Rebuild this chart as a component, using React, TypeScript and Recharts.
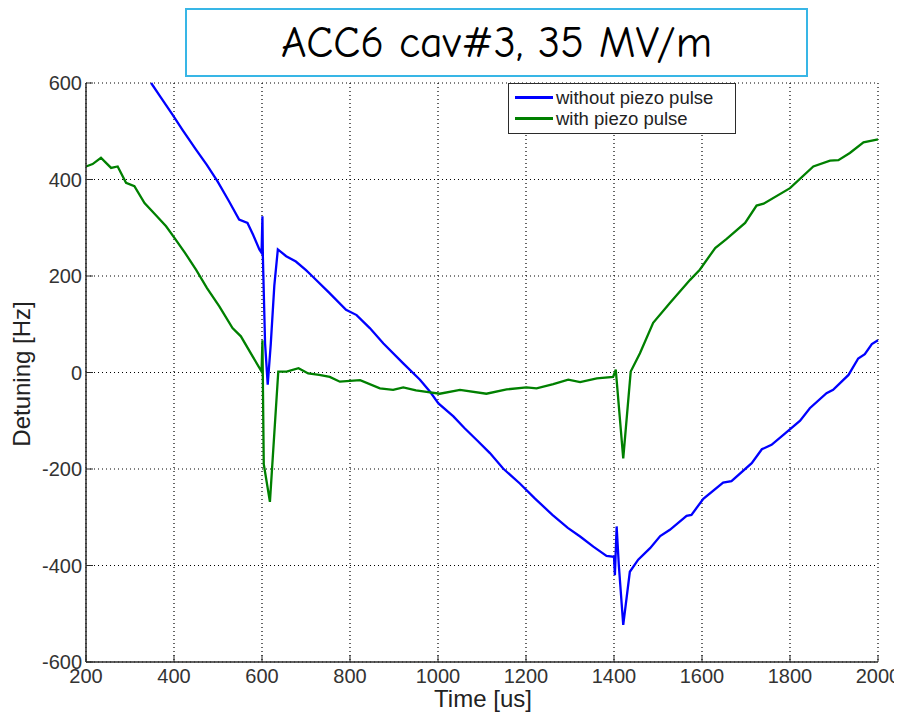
import { CartesianGrid, Legend, Line, LineChart, XAxis, YAxis } from 'recharts'

// time [us] / detuning [Hz] pairs for each run
const withoutPiezo: [number, number][] = [
  [348, 600], [370, 570], [397, 534], [420, 502], [450, 462], [475, 430], [499, 396], [525, 355],
  [548, 317], [567, 310], [580, 285], [594, 255], [599, 248], [601, 324], [602, 240], [607, 60],
  [613, -25], [620, 60], [628, 180], [636, 255], [655, 241], [677, 230], [700, 212], [715, 199],
  [753, 165], [791, 130], [815, 119], [845, 92], [876, 60], [921, 19], [959, -15], [982, -40],
  [1001, -64], [1035, -91], [1060, -115], [1088, -140], [1118, -167], [1148, -199], [1186, -230],
  [1220, -261], [1260, -295], [1295, -322], [1323, -340], [1353, -361], [1383, -380], [1400, -382],
  [1402, -420], [1406, -319], [1411, -400], [1421, -523], [1436, -413], [1455, -388], [1482, -364],
  [1505, -339], [1527, -326], [1565, -297], [1576, -295], [1603, -262], [1648, -228], [1667, -225],
  [1713, -188], [1736, -159], [1758, -150], [1789, -126], [1823, -100], [1845, -74], [1883, -43],
  [1898, -36], [1933, -5], [1955, 29], [1970, 38], [1986, 59], [2000, 67],
]

const withPiezo: [number, number][] = [
  [200, 427], [215, 432], [234, 445], [245, 435], [257, 424], [272, 427], [291, 393], [310, 386],
  [333, 351], [360, 325], [382, 303], [401, 279], [425, 248], [450, 213], [475, 175], [503, 137],
  [533, 92], [552, 75], [579, 33], [599, 2], [601, 67], [604, -190], [618, -268], [637, 2],
  [656, 2], [683, 9], [705, -2], [730, -5], [754, -9], [777, -19], [823, -16], [868, -33],
  [898, -36], [921, -31], [950, -37], [974, -40], [1004, -44], [1050, -36], [1110, -44],
  [1156, -35], [1201, -31], [1224, -33], [1262, -24], [1296, -15], [1323, -20], [1361, -12],
  [1398, -9], [1404, 6], [1421, -178], [1438, 2], [1459, 40], [1489, 103], [1527, 144],
  [1573, 192], [1595, 213], [1630, 258], [1656, 277], [1698, 310], [1724, 346], [1740, 350],
  [1800, 382], [1853, 427], [1891, 439], [1910, 440], [1936, 455], [1967, 477], [2000, 483],
]

const timeTicks = [200, 400, 600, 800, 1000, 1200, 1400, 1600, 1800, 2000]
const hzTicks = [-600, -400, -200, 0, 200, 400, 600]
const seriesNames = ['without piezo pulse', 'with piezo pulse']

const toRows = (pts: [number, number][]) => pts.map(([t, hz]) => ({ t, hz }))

const axisColor = '#2b2b2b'
const sans = '"Liberation Sans", Arial, sans-serif'
const tickFont = { fontFamily: sans, fontSize: 20, fill: '#333' }

// matlab-style ticks: short marks pointing into the plot box
const BottomTick = ({ x, y, payload }: any) => (
  <g>
    <line x1={x} x2={x} y1={y} y2={y - 7} stroke={axisColor} />
    <text x={x} y={y + 21} textAnchor="middle" {...tickFont}>{payload.value}</text>
  </g>
)
const TopTick = ({ x, y }: any) => <line x1={x} x2={x} y1={y} y2={y + 7} stroke={axisColor} />
const LeftTick = ({ x, y, payload }: any) => (
  <g>
    <line x1={x} x2={x + 7} y1={y} y2={y} stroke={axisColor} />
    <text x={x - 4} y={y + 7} textAnchor="end" {...tickFont}>{payload.value}</text>
  </g>
)
const RightTick = ({ x, y }: any) => <line x1={x} x2={x - 7} y1={y} y2={y} stroke={axisColor} />

const LegendBox = ({ payload }: any) => {
  const items = [...(payload || [])].sort(
    (a: any, b: any) => seriesNames.indexOf(a.value) - seriesNames.indexOf(b.value),
  )
  return (
    <div
      style={{
        border: `1px solid ${axisColor}`,
        background: '#fff',
        padding: '3px 6px 4px 6px',
        fontFamily: sans,
        fontSize: 18.5,
        color: '#222',
        lineHeight: '21px',
        whiteSpace: 'nowrap',
      }}
    >
      {items.map((p: any) => (
        <div key={p.value} style={{ display: 'flex', alignItems: 'center' }}>
          <span style={{ display: 'inline-block', width: 38, height: 2.5, background: p.color, marginRight: 3 }} />
          {p.value}
        </div>
      ))}
    </div>
  )
}

export default function App() {
  return (
    <div style={{ position: 'relative', width: 902, height: 714, marginLeft: -8, marginTop: -8, background: '#fff' }}>
      <LineChart width={902} height={714} margin={{ top: 83, right: 24, bottom: 22, left: 26 }}>
        <CartesianGrid stroke="#000" strokeDasharray="1 3" strokeWidth={1.2} />
        <XAxis
          dataKey="t"
          type="number"
          domain={[200, 2000]}
          ticks={timeTicks}
          interval={0}
          height={30}
          tickSize={0}
          tickMargin={0}
          tickLine={false}
          tick={<BottomTick />}
          axisLine={{ stroke: axisColor, strokeWidth: 1.5 }}
        />
        <XAxis
          xAxisId="top"
          orientation="top"
          dataKey="t"
          type="number"
          domain={[200, 2000]}
          ticks={timeTicks}
          interval={0}
          height={0}
          tickSize={0}
          tickMargin={0}
          tickLine={false}
          tick={<TopTick />}
          axisLine={{ stroke: axisColor, strokeWidth: 1.5 }}
        />
        <YAxis
          dataKey="hz"
          type="number"
          domain={[-600, 600]}
          ticks={hzTicks}
          interval={0}
          width={60}
          tickSize={0}
          tickMargin={0}
          tickLine={false}
          tick={<LeftTick />}
          axisLine={{ stroke: axisColor, strokeWidth: 1.5 }}
        />
        <YAxis
          yAxisId="right"
          orientation="right"
          type="number"
          domain={[-600, 600]}
          ticks={hzTicks}
          interval={0}
          width={0}
          tickSize={0}
          tickMargin={0}
          tickLine={false}
          tick={<RightTick />}
          axisLine={{ stroke: axisColor, strokeWidth: 1.5 }}
        />
        <Legend
          layout="vertical"
          align="center"
          verticalAlign="middle"
          content={<LegendBox />}
          wrapperStyle={{ left: 508, top: 83, width: 228 }}
        />
        <Line
          data={toRows(withoutPiezo)}
          dataKey="hz"
          name={seriesNames[0]}
          type="linear"
          stroke="#0000ff"
          strokeWidth={2.3}
          dot={false}
          isAnimationActive={false}
        />
        <Line
          data={toRows(withPiezo)}
          dataKey="hz"
          name={seriesNames[1]}
          type="linear"
          stroke="#008000"
          strokeWidth={2.3}
          dot={false}
          isAnimationActive={false}
        />
      </LineChart>

      <div
        style={{
          position: 'absolute',
          left: 185,
          top: 8,
          width: 619,
          height: 65,
          border: '2px solid #38b6e6',
          display: 'flex',
          alignItems: 'center',
          justifyContent: 'center',
          fontFamily: '"Comic Sans MS", "Comic Neue", "DejaVu Sans", sans-serif',
          fontSize: 44,
          color: '#000',
          whiteSpace: 'nowrap',
        }}
      >
        ACC6 cav#3, 35 MV/m
      </div>
      <div
        style={{
          position: 'absolute',
          left: 483,
          top: 699,
          transform: 'translate(-50%, -50%)',
          fontFamily: sans,
          fontSize: 24,
          color: '#222',
          whiteSpace: 'nowrap',
        }}
      >
        Time [us]
      </div>
      <div
        style={{
          position: 'absolute',
          left: 22,
          top: 374,
          transform: 'translate(-50%, -50%) rotate(-90deg)',
          fontFamily: sans,
          fontSize: 24,
          color: '#222',
          whiteSpace: 'nowrap',
        }}
      >
        Detuning [Hz]
      </div>
    </div>
  )
}
